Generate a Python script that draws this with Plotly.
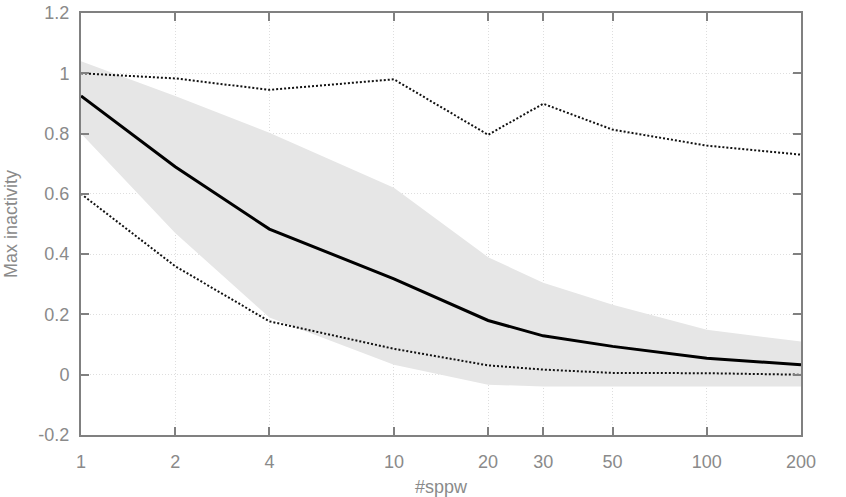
import plotly.graph_objects as go

sppw = [1, 2, 4, 10, 20, 30, 50, 100, 200]
mean_vals = [0.925, 0.69, 0.483, 0.318, 0.18, 0.129, 0.094, 0.055, 0.033]
max_vals = [1.0, 0.983, 0.945, 0.98, 0.796, 0.899, 0.813, 0.76, 0.73]
min_vals = [0.6, 0.36, 0.177, 0.086, 0.031, 0.017, 0.006, 0.005, 0.0]
band_upper = [1.04, 0.925, 0.803, 0.62, 0.39, 0.305, 0.232, 0.149, 0.11]
band_lower = [0.80, 0.47, 0.19, 0.033, -0.033, -0.039, -0.039, -0.039, -0.039]

x_ticks = [1, 2, 4, 10, 20, 30, 50, 100, 200]
y_ticks = [-0.2, 0, 0.2, 0.4, 0.6, 0.8, 1, 1.2]
y_ticktext = ["-0.2", "0", "0.2", "0.4", "0.6", "0.8", "1", "1.2"]

FONT = "Liberation Sans, Arial"
TXT = "#8a8a8a"

fig = go.Figure()
fig.add_trace(go.Scatter(x=sppw, y=band_lower, mode="lines", line=dict(width=0),
                         showlegend=False, hoverinfo="skip"))
fig.add_trace(go.Scatter(x=sppw, y=band_upper, mode="lines", line=dict(width=0),
                         fill="tonexty", fillcolor="#e6e6e6", showlegend=False, hoverinfo="skip"))
fig.add_trace(go.Scatter(x=sppw, y=max_vals, mode="lines",
                         line=dict(color="#111111", width=2, dash="2px,2px"), showlegend=False))
fig.add_trace(go.Scatter(x=sppw, y=min_vals, mode="lines",
                         line=dict(color="#111111", width=2, dash="2px,2px"), showlegend=False))
fig.add_trace(go.Scatter(x=sppw, y=mean_vals, mode="lines",
                         line=dict(color="#000000", width=3), showlegend=False))

axis_common = dict(
    showline=True, linecolor="#808080", linewidth=2, mirror="ticks",
    ticks="inside", ticklen=8, tickcolor="#808080", tickwidth=2,
    showgrid=True, gridcolor="#dedede", griddash="1px,2px", gridwidth=1,
    zeroline=False, automargin=False,
    tickfont=dict(family=FONT, size=18, color=TXT),
)

fig.update_xaxes(type="log", range=[0, 2.30103], tickvals=x_ticks,
                 ticktext=[str(v) for v in x_ticks], ticklabelstandoff=9,
                 title=dict(text="#sppw", font=dict(family=FONT, size=18, color=TXT), standoff=10),
                 **axis_common)
fig.update_yaxes(range=[-0.2, 1.2], tickvals=y_ticks, ticktext=y_ticktext, ticklabelstandoff=6,
                 title=dict(text="Max inactivity", font=dict(family=FONT, size=18, color=TXT), standoff=16),
                 **axis_common)

fig.update_layout(width=846, height=497, margin=dict(l=81, r=45, t=13, b=62),
                  paper_bgcolor="white", plot_bgcolor="white")
fig.write_html("out.html")
